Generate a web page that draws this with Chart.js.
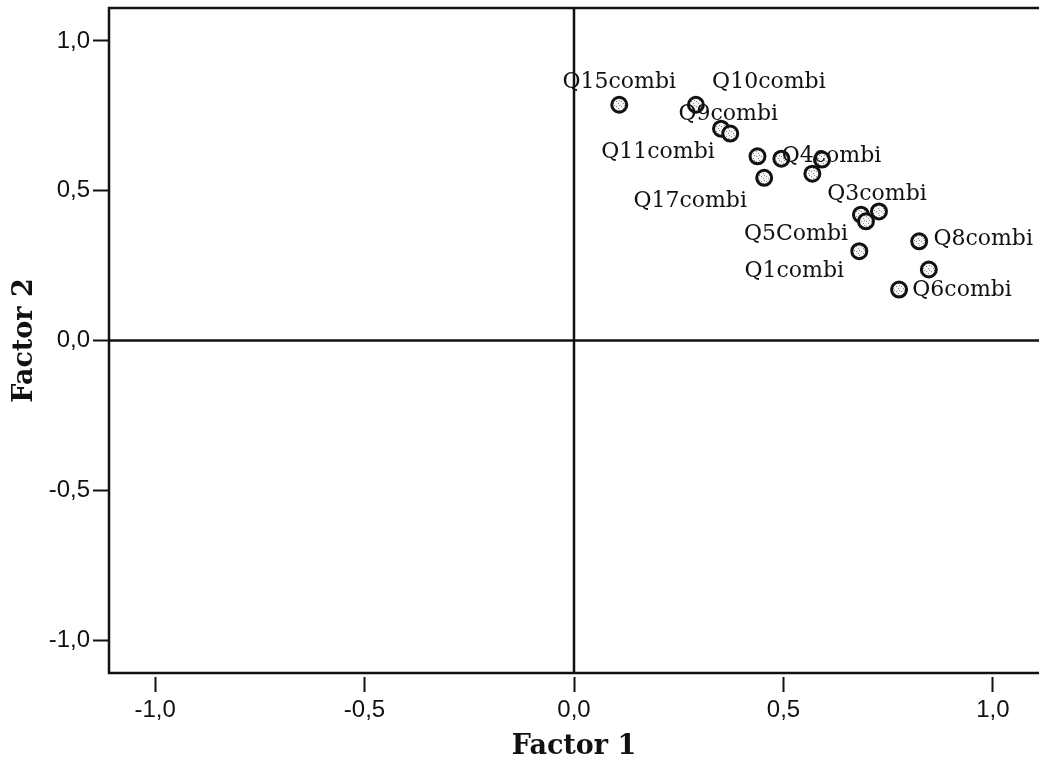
<!DOCTYPE html>
<html>
<head>
<meta charset="utf-8">
<title>Factor loadings</title>
<script src="https://cdn.jsdelivr.net/npm/chart.js@4.4.1/dist/chart.umd.min.js"></script>
<style>
    html, body {margin: 0; padding: 0; background: #fff;}
    #factor-plot {display: block;}
</style>
</head>
<body>
<canvas id="factor-plot" width="1039" height="763"></canvas>
<script>
// loadings per item (Factor 1, Factor 2)
var factor1 = [0.108, 0.291, 0.351, 0.373, 0.438, 0.495, 0.592, 0.454, 0.569, 0.685, 0.728, 0.697, 0.681, 0.824, 0.847, 0.776];
var factor2 = [0.787, 0.787, 0.707, 0.691, 0.615, 0.607, 0.604, 0.543, 0.557, 0.420, 0.431, 0.398, 0.298, 0.331, 0.237, 0.170];
var itemLabels = ['Q15combi', 'Q10combi', 'Q11combi', 'Q9combi', 'Q4combi', null, null, 'Q17combi', null, null,
    'Q3combi', 'Q5Combi', 'Q1combi', 'Q8combi', null, 'Q6combi'];

var tickValues = [-1, -0.5, 0, 0.5, 1];
var tickLabels = ['-1,0', '-0,5', '0,0', '0,5', '1,0'];

var axisMin = -1.11;
var axisMax = 1.11;

// where each item label sits, relative to its marker (px)
var labelOffsets = {
    'Q15combi': [0, -22],
    'Q10combi': [73, -22],
    'Q11combi': [-63, 24],
    'Q9combi': [-2, -19],
    'Q4combi': [74, 0],
    'Q17combi': [-74, 23],
    'Q3combi': [-2, -17],
    'Q5Combi': [-70, 13],
    'Q1combi': [-65, 20],
    'Q8combi': [64, -2],
    'Q6combi': [63, 1]
};

var points = factor1.map(function (v, i) {
    return {x: v, y: factor2[i]};
});

// speckled marker fill
function speckle() {
    var c = document.createElement('canvas');
    c.width = 5;
    c.height = 5;
    var g = c.getContext('2d');
    g.fillStyle = '#f4f4f4';
    g.fillRect(0, 0, 5, 5);
    g.fillStyle = '#8a8a8a';
    g.fillRect(1, 1, 1, 1);
    g.fillRect(3, 3, 1, 1);
    g.fillRect(4, 0, 1, 1);
    return g.createPattern(c, 'repeat');
}

var frameLines = {
    id: 'frameLines',
    beforeDatasetsDraw: function (chart) {
        var ctx = chart.ctx;
        var a = chart.chartArea;
        var x0 = chart.scales.x.getPixelForValue(0);
        var y0 = chart.scales.y.getPixelForValue(0);
        ctx.save();
        ctx.strokeStyle = '#111';
        ctx.lineWidth = 2.5;
        ctx.beginPath();
        // top, left and bottom of the frame
        ctx.moveTo(a.right, a.top);
        ctx.lineTo(a.left, a.top);
        ctx.lineTo(a.left, a.bottom);
        ctx.lineTo(a.right, a.bottom);
        // zero lines
        ctx.moveTo(a.left, y0);
        ctx.lineTo(a.right, y0);
        ctx.moveTo(x0, a.top);
        ctx.lineTo(x0, a.bottom);
        ctx.stroke();
        ctx.restore();
    }
};

var itemNames = {
    id: 'itemNames',
    afterDatasetsDraw: function (chart) {
        var ctx = chart.ctx;
        var meta = chart.getDatasetMeta(0);
        ctx.save();
        ctx.font = '22px "DejaVu Serif"';
        ctx.fillStyle = '#111';
        ctx.textAlign = 'center';
        ctx.textBaseline = 'middle';
        itemLabels.forEach(function (name, i) {
            if (!name) return;
            var el = meta.data[i];
            var off = labelOffsets[name] || [0, -20];
            ctx.fillText(name, el.x + off[0], el.y + off[1]);
        });
        ctx.restore();
    }
};

function fixedTicks(scale) {
    scale.ticks = tickValues.map(function (v) {
        return {value: v};
    });
}

function tickText(value) {
    var i = tickValues.indexOf(value);
    return i >= 0 ? tickLabels[i] : '';
}

var tickFont = {family: '"Liberation Sans", Arial, sans-serif', size: 24};
var titleFont = {family: '"DejaVu Serif", serif', size: 27, weight: 'bold'};

var config = {
    type: 'scatter',
    data: {
        datasets: [
            {
                label: 'Items',
                data: points,
                pointRadius: 7.5,
                pointHoverRadius: 7.5,
                pointBorderWidth: 3,
                pointBorderColor: '#111',
                pointBackgroundColor: speckle(),
            }
        ]
    },
    options: {
        responsive: false,
        animation: false,
        layout: {
            autoPadding: false,
            padding: {top: 8, right: 0, bottom: 0, left: 0}
        },
        plugins: {
            legend: {display: false},
            tooltip: {enabled: false}
        },
        scales: {
            x: {
                type: 'linear',
                min: axisMin,
                max: axisMax,
                afterBuildTicks: fixedTicks,
                afterFit: function (scale) {
                    scale.height = 90;
                    scale.paddingLeft = 0;
                    scale.paddingRight = 0;
                },
                border: {display: false},
                grid: {
                    drawOnChartArea: false,
                    drawTicks: true,
                    tickLength: 19,
                    tickWidth: 2,
                    tickColor: '#111',
                    tickBorderDash: [0, 4, 15, 60]
                },
                ticks: {
                    padding: 4,
                    color: '#111',
                    font: tickFont,
                    maxRotation: 0,
                    callback: tickText
                },
                title: {
                    display: true,
                    text: 'Factor 1',
                    color: '#111',
                    font: titleFont,
                    padding: {top: 0, bottom: 0}
                }
            },
            y: {
                type: 'linear',
                min: axisMin,
                max: axisMax,
                afterBuildTicks: fixedTicks,
                afterFit: function (scale) {
                    scale.width = 109;
                    scale.paddingTop = 0;
                    scale.paddingBottom = 0;
                },
                border: {display: false},
                grid: {
                    drawOnChartArea: false,
                    drawTicks: true,
                    tickLength: 16,
                    tickWidth: 2,
                    tickColor: '#111'
                },
                ticks: {
                    padding: 3,
                    color: '#111',
                    font: tickFont,
                    callback: tickText
                },
                title: {
                    display: true,
                    text: 'Factor 2',
                    color: '#111',
                    font: titleFont,
                    padding: {top: 9, bottom: 0}
                }
            }
        }
    },
    plugins: [frameLines, itemNames]
};

var ctx = document.getElementById('factor-plot').getContext('2d');
window.factorPlot = new Chart(ctx, config);
</script>
</body>
</html>
